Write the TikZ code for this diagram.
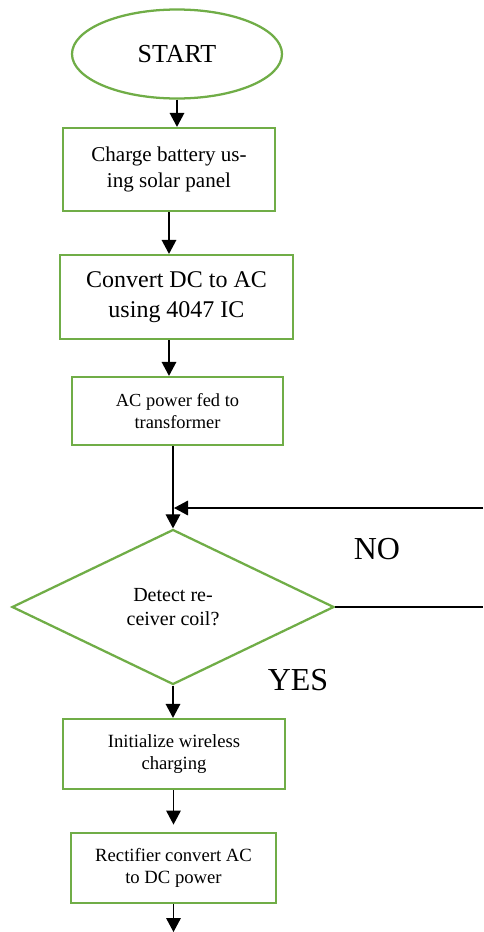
\documentclass[tikz,border=0pt]{standalone}
\usepackage{fontspec}
\setmainfont{Liberation Serif}
\usetikzlibrary{shapes.geometric,arrows.meta}
\definecolor{fgreen}{HTML}{70AD47}
\tikzset{
  box/.style={draw=fgreen,line width=1.7pt,align=center,inner sep=0pt,text=black},
  arr/.style={draw=black,line width=0.9pt,-{Triangle[length=10.5pt,width=11pt]}},
  ln/.style={draw=black,line width=0.9pt},
}
\begin{document}
\begin{tikzpicture}[x=0.75pt,y=-0.75pt]
\useasboundingbox (0,0) rectangle (483,932);
\node[box,ellipse,minimum width=210*0.75pt,minimum height=89*0.75pt,font=\fontsize{19.5}{23}\selectfont] (start) at (177,54) {START};
\node[box,minimum width=212*0.75pt,minimum height=83*0.75pt,font=\fontsize{15.8}{20}\selectfont] (b1) at (169,169.5) {Charge battery us-\\ing solar panel};
\node[box,minimum width=233*0.75pt,minimum height=84*0.75pt,font=\fontsize{18}{22.5}\selectfont] (b2) at (176.5,297) {Convert DC to AC\\using 4047 IC};
\node[box,minimum width=211*0.75pt,minimum height=68*0.75pt,font=\fontsize{13.8}{17}\selectfont] (b3) at (177.5,411) {AC power fed to\\transformer};
\node[box,diamond,aspect=2.08,minimum width=322*0.75pt,minimum height=155*0.75pt,font=\fontsize{15}{18}\selectfont] (dec) at (173,607) {Detect re-\\ceiver coil?};
\node[box,minimum width=222*0.75pt,minimum height=70*0.75pt,font=\fontsize{14}{17}\selectfont] (b4) at (174,754) {Initialize wireless\\charging};
\node[box,minimum width=205*0.75pt,minimum height=70*0.75pt,font=\fontsize{14}{17}\selectfont] (b5) at (173.5,868) {Rectifier convert AC\\to DC power};
\node[font=\fontsize{24}{28}\selectfont] (no) at (377,549) {NO};
\node[font=\fontsize{24}{28}\selectfont] (yes) at (298,680) {YES};
\coordinate (fbR) at (483,508);
\coordinate (noR) at (483,605);
\coordinate (join) at (174,508);
\coordinate (bot) at (174,932);
\draw[arr] (start.south) -- (start.south |- b1.north);
\draw[arr] (b1.south) -- (b1.south |- b2.north);
\draw[arr] (b2.south -| b1.south) -- (b1.south |- b3.north);
\draw[arr] (b3.south -| dec.north) -- (dec.north);
\draw[arr] (fbR) -- (join);
\draw[ln] (dec.east) -- (dec.east -| noR);
\draw[arr] (dec.south) -- (dec.south |- b4.north);
\draw[arr] (b4.south -| b5.south) -- ([yshift=5.5pt]b5.north);
\draw[arr] (b5.south) -- (b5.south |- bot);
\end{tikzpicture}
\end{document}
